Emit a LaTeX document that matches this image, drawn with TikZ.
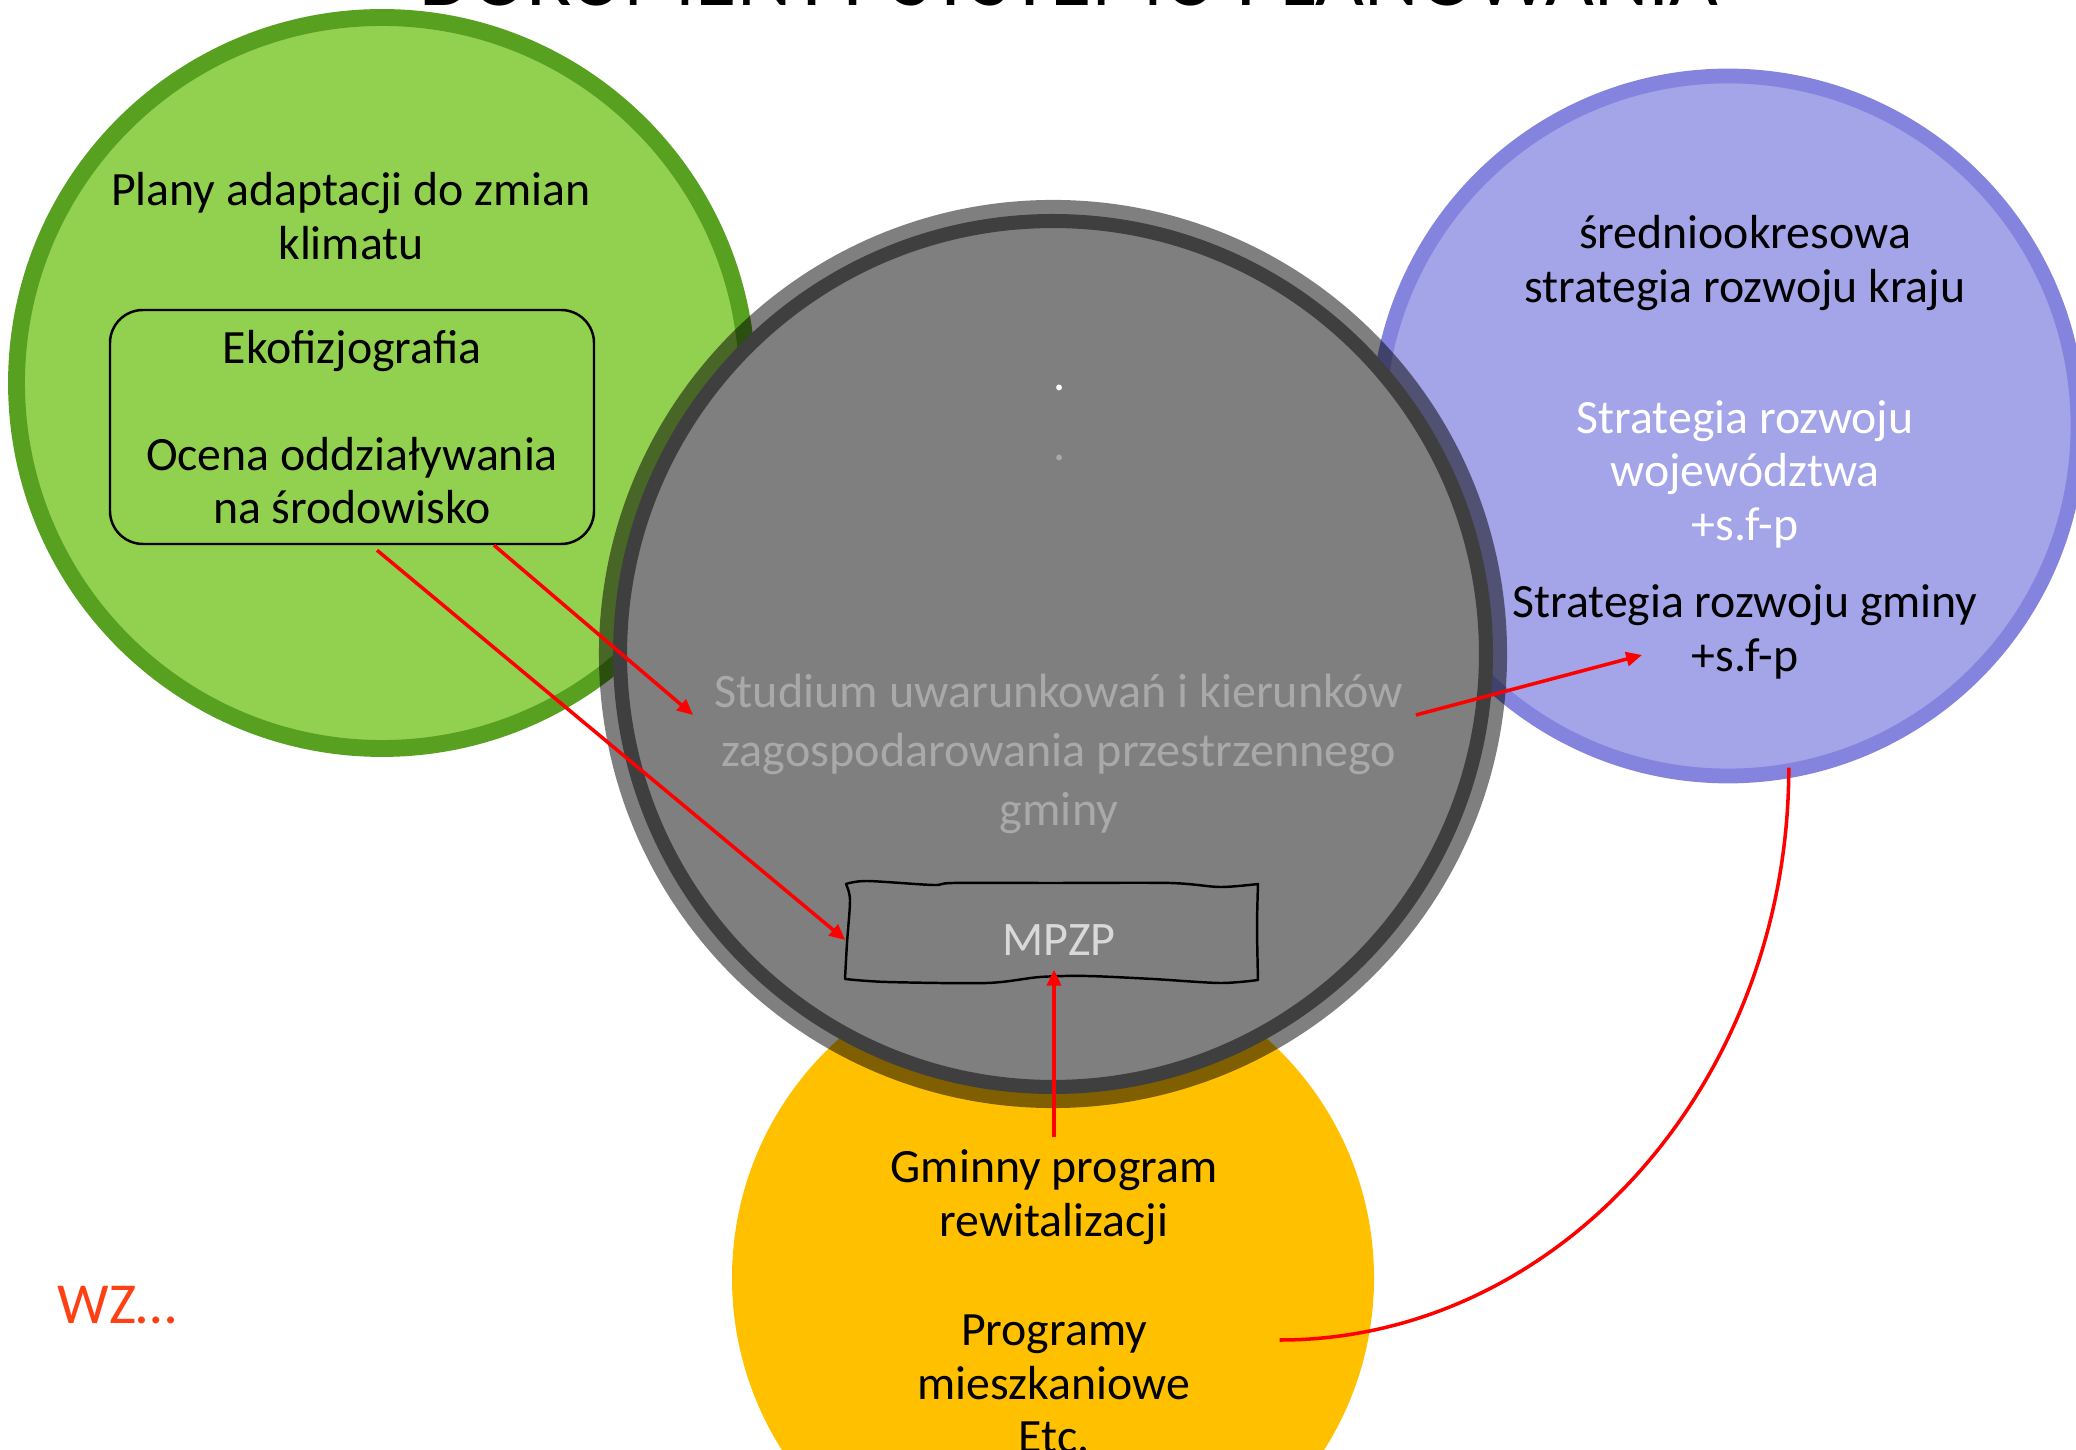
\documentclass[tikz,border=0pt]{standalone}
\usepackage{fontspec}
\setmainfont{Carlito}
\usetikzlibrary{arrows.meta,calc}
\definecolor{envColor}{HTML}{92D050}
\definecolor{envEdge}{HTML}{58A01F}
\definecolor{strColor}{HTML}{A4A4E8}
\definecolor{strEdge}{HTML}{8484DE}
\definecolor{revColor}{HTML}{FFC000}
\definecolor{stuColor}{HTML}{7F7F7F}
\definecolor{stuText}{HTML}{A9A9A9}
\definecolor{mpText}{HTML}{D9D9D9}
\definecolor{lnkColor}{HTML}{FF0000}
\definecolor{wzColor}{HTML}{FF4014}
\newcommand{\sfp}{+s.f-p}
\tikzset{
	area/.style={circle, inner sep=0pt, outer sep=0pt},
	txt/.style={align=center, font=\fontsize{13.6}{15.2}\selectfont},
	big txt/.style={align=center, font=\fontsize{13.7}{16.8}\selectfont},
	link/.style={->, draw=lnkColor, line width=1pt}
}

\begin{document}
\begin{tikzpicture}[>={Triangle[length=4.5pt,width=4pt]}]
	\useasboundingbox (0,0) rectangle (20.76,14.49);
	
	\node[area, fill=envColor, draw=envEdge, line width=4.8pt, minimum size=7.31cm] (env) at (3.82, 10.66) {};
	\node[area, fill=strColor, draw=strEdge, line width=4.2pt, minimum size=7.0cm] (str) at (17.28, 10.23) {};
	\node[area, fill=revColor, minimum size=6.42cm] (rev) at (10.53, 1.71) {};
	\node[area, fill=stuColor, draw=black, draw opacity=0.5, line width=8pt, minimum size=8.8cm] (stu) at (10.53, 7.95) {};
	
	\node[font=\fontsize{24}{29}\selectfont, anchor=base, inner sep=0pt] (title) at (10.69, 14.43) {DOKUMENTY SYSTEMU PLANOWANIA};
	
	\node[txt] (plany) at (3.51, 12.33) {Plany adaptacji do zmian\\klimatu};
	\node[txt, draw, line width=0.7pt, rounded corners=0.33cm, minimum width=4.84cm, minimum height=2.34cm] (eko) at (3.52, 10.22) {Ekofizjografia\\[15.2pt]Ocena oddziaływania\\na środowisko};
	
	\node[txt] (kraj) at (17.45, 11.86) {średniookresowa\\strategia rozwoju kraju};
	\node[txt, text=white] (woj) at (17.45, 9.75) {Strategia rozwoju\\województwa\\\sfp};
	\node[txt] (gmina) at (17.45, 8.17) {Strategia rozwoju gminy\\\sfp};
	
	\node[big txt, text=white, anchor=base] (dotA) at (10.60, 10.58) {.};
	\node[big txt, text=stuText, anchor=base] (dotB) at (10.60, 9.88) {.};
	\node[big txt, text=stuText] (stud) at (10.59, 6.95) {Studium uwarunkowań i kierunków\\zagospodarowania przestrzennego\\gminy};
	
	\node[big txt, text=mpText, minimum width=4.26cm, minimum height=0.58cm, inner sep=0pt] (mpzp) at (10.59, 5.09) {MPZP};
	\draw[line width=0.7pt, line join=round, shift={(mpzp.center)}]
		plot[smooth] coordinates {(-2.13,0.56) (-1.92,0.59) (-1.26,0.55) (-1.06,0.57) (-0.06,0.57) (1.11,0.57) (1.61,0.53) (1.99,0.56)}
		-- plot[smooth] coordinates {(1.99,0.56) (1.98,0.13) (1.99,-0.40)}
		-- plot[smooth] coordinates {(1.99,-0.40) (1.61,-0.43) (0.94,-0.39) (0.28,-0.36) (-0.19,-0.37) (-0.72,-0.43) (-1.72,-0.42) (-2.14,-0.39)}
		-- plot[smooth] coordinates {(-2.14,-0.39) (-2.12,-0.03) (-2.09,0.40) (-2.13,0.56)} -- cycle;
	
	\node[txt] (gminny) at (10.54, 2.52) {Gminny program\\rewitalizacji};
	\node[txt] (prog) at (10.54, 0.65) {Programy\\mieszkaniowe\\Etc.};
	
	\node[font=\fontsize{16.5}{19}\selectfont, text=wzColor, anchor=base west, inner sep=0pt] (wz) at (0.57, 1.26) {WZ…};
	
	\draw[link] ($(eko.south)+(0.25,-0.05)$) -- (mpzp.west);
	\draw[link] ($(eko.south)+(1.42,0)$) -- ($(stud.west)+(-0.09,0.39)$);
	\draw[link] ($(stud.east)+(0,0.39)$) -- ($(gmina.center)+(-1.03,-0.23)$);
	\draw[link] (gminny.north) -- (gminny.north |- mpzp.south);
	\draw[lnkColor, line width=1pt] ($(str.-80)+(0,0.03)$) .. controls +(0,-3.16) and +(2.79,0) .. ($(prog.east)+(0.77,0.44)$);
\end{tikzpicture}
\end{document}
